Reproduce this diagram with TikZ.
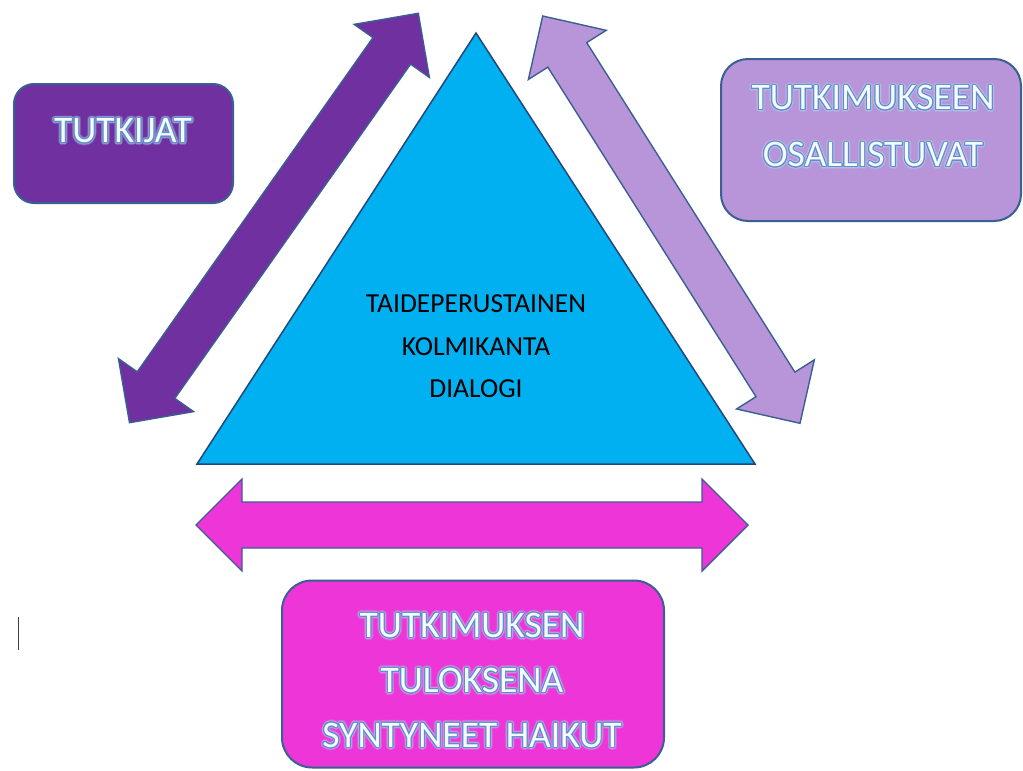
\documentclass[tikz,border=0pt]{standalone}
\usepackage{fontspec}
\setmainfont{Carlito}
\usetikzlibrary{calc}
\definecolor{dpurple}{HTML}{7030A0}
\definecolor{lpurple}{HTML}{B894D9}
\definecolor{mag}{HTML}{EE36D8}
\definecolor{cyantri}{HTML}{00B0F0}
\definecolor{edgec}{HTML}{3A5F93}
\definecolor{triedge}{HTML}{24477A}
\definecolor{glowin}{HTML}{5A8FCC}
\definecolor{glowout}{HTML}{B4D3F0}
\definecolor{glowfill}{HTML}{F6FAFE}
\definecolor{cursorc}{HTML}{404040}

\newcommand\shiftbox[3]{\makebox[0pt]{\hspace*{#1}\raisebox{#2}{#3}}}
\newcommand\glowring[3]{\foreach \gang in {0,22.5,...,337.5}{%
  \pgfmathsetlengthmacro\gdxx{2*#2*cos(\gang)}%
  \pgfmathsetlengthmacro\gdyy{#2*sin(\gang)}%
  \shiftbox{\gdxx}{\gdyy}{\textcolor{#1}{#3}}}}
\newcommand\glowline[2]{%
  \glowring{glowout!25!#1}{2.8}{#2}%
  \glowring{glowout!60!#1}{1.9}{#2}%
  \glowring{glowin}{1.0}{#2}%
  \makebox[0pt]{\textcolor{glowfill}{#2}}}

% double-headed block arrow between two tips
\newcommand\dblarrow[3]{%
  \draw[#1] (#2)
    -- ($(#2)!46pt!(#3)!46pt!90:(#3)$)
    -- ($(#2)!46pt!(#3)!23pt!90:(#3)$)
    -- ($(#3)!46pt!(#2)!23pt!-90:(#2)$)
    -- ($(#3)!46pt!(#2)!46pt!-90:(#2)$)
    -- (#3)
    -- ($(#3)!46pt!(#2)!46pt!90:(#2)$)
    -- ($(#3)!46pt!(#2)!23pt!90:(#2)$)
    -- ($(#2)!46pt!(#3)!23pt!-90:(#3)$)
    -- ($(#2)!46pt!(#3)!46pt!-90:(#3)$)
    -- cycle;}

\begin{document}
\begin{tikzpicture}[x=1pt,y=-1pt,
  blockarrow/.style={draw=edgec, line width=1.4pt, line join=miter},
  box/.style={draw=edgec, line width=2pt, inner sep=0pt},
  glowtext/.style={anchor=base, inner sep=0pt, font=\fontsize{37.5}{40}\selectfont},
  tritext/.style={anchor=base, inner sep=0pt, font=\fontsize{27.5}{30}\selectfont, text=black},
  tri/.style={fill=cyantri, draw=triedge, line width=1.5pt, line join=miter}]
\fill[white] (0,0) rectangle (1023,771);
\useasboundingbox (0,0) rectangle (1023,771);

% triangle
\coordinate (apex) at (476,33);
\coordinate (bl) at (197,464);
\coordinate (br) at (755,464);
\draw[tri] (apex) -- (bl) -- (br) -- cycle;
\node[tritext] (tri1) at (476,312) {TAIDEPERUSTAINEN};
\node[tritext] (tri2) at (476,355) {KOLMIKANTA};
\node[tritext] (tri3) at (476,397) {DIALOGI};

% arrows
\coordinate (la) at (129.5,422.7);
\coordinate (lb) at (418.3,13.3);
\dblarrow{blockarrow, fill=dpurple}{la}{lb}
\coordinate (ra) at (542.7,16);
\coordinate (rb) at (800,423.3);
\dblarrow{blockarrow, fill=lpurple}{ra}{rb}
\coordinate (ha) at (196,525);
\coordinate (hb) at (748,525);
\dblarrow{blockarrow, fill=mag}{ha}{hb}

% boxes
\node[box, fill=dpurple, rounded corners=20pt, minimum width=219pt, minimum height=119pt] (tutkijat) at (123.5,143.5) {};
\node[glowtext] (tutkijatT) at (123,142.8) {\glowline{dpurple}{TUTKIJAT}};

\node[box, fill=lpurple, rounded corners=27pt, minimum width=300pt, minimum height=162pt] (osall) at (871,140) {};
\node[glowtext] (osallT1) at (873,109.8) {\glowline{lpurple}{TUTKIMUKSEEN}};
\node[glowtext] (osallT2) at (873,166.8) {\glowline{lpurple}{OSALLISTUVAT}};

\node[box, fill=mag, rounded corners=30pt, minimum width=382pt, minimum height=187pt] (tulos) at (473,674) {};
\node[glowtext] (tulosT1) at (472,637.6) {\glowline{mag}{TUTKIMUKSEN}};
\node[glowtext] (tulosT2) at (472,692.6) {\glowline{mag}{TULOKSENA}};
\node[glowtext] (tulosT3) at (472,747.3) {\glowline{mag}{SYNTYNEET HAIKUT}};

% text cursor mark
\coordinate (cur1) at (18.3,617);
\coordinate (cur2) at (18.3,650);
\draw[cursorc, line width=1.5pt] (cur1) -- (cur2);
\end{tikzpicture}
\end{document}
